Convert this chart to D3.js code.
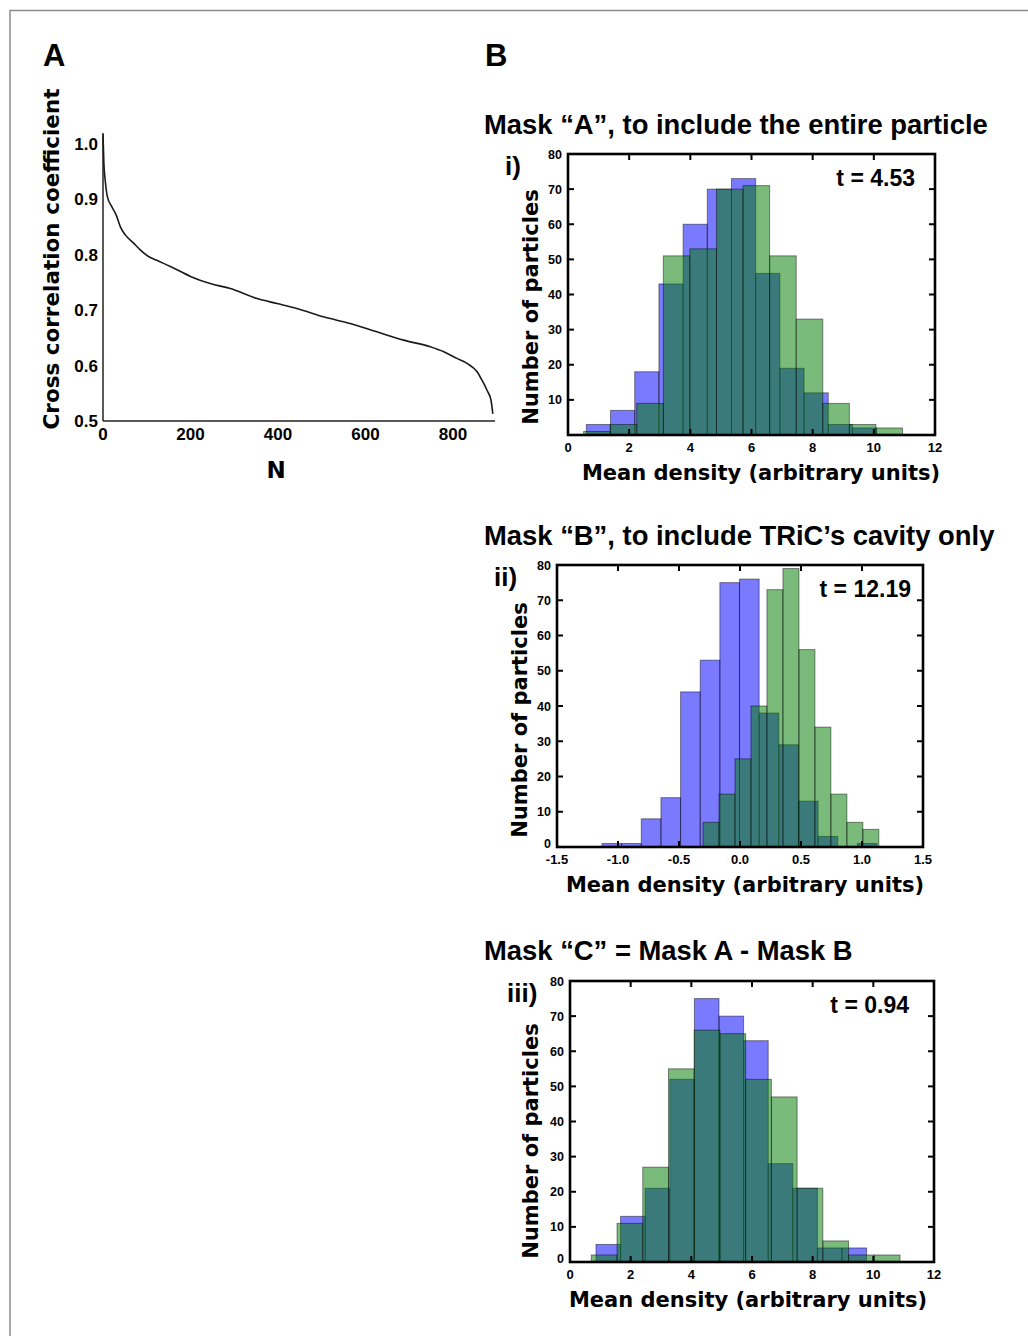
<!DOCTYPE html>
<html>
<head>
<meta charset="utf-8">
<script src="https://cdn.jsdelivr.net/npm/d3@7"></script>
<style>
  body { margin: 0; background: #fff; }
  svg { display: block; }
  text { font-family: "Liberation Sans", Arial, sans-serif; font-weight: bold; fill: #000; }
  .heavy { font-family: "DejaVu Sans", Verdana, sans-serif; font-weight: bold; }
</style>
</head>
<body>
<svg id="fig" width="1028" height="1336"></svg>
<script>
// ---- Panel A: sorted cross-correlation coefficients ----
const ccN     = [0, 2, 5, 10, 20, 30, 40, 51, 70, 85, 104, 123, 154, 200, 245, 291, 352, 398, 443, 504, 565, 626, 687, 748, 779, 809, 832, 855, 866, 878, 887, 891];
const ccValue = [1.017, 0.965, 0.935, 0.905, 0.887, 0.872, 0.850, 0.836, 0.821, 0.809, 0.797, 0.790, 0.779, 0.761, 0.748, 0.739, 0.721, 0.712, 0.703, 0.688, 0.676, 0.661, 0.646, 0.634, 0.625, 0.613, 0.604, 0.589, 0.574, 0.555, 0.537, 0.513];
const ccXTicks = [0, 200, 400, 600, 800];
const ccYTicks = [0.5, 0.6, 0.7, 0.8, 0.9, 1.0];

// ---- Panel B(i): Mask "A" ----
const iBlueStart = 0.60, iBlueWidth = 0.791;
const iBlueCounts = [3, 7, 18, 43, 60, 70, 73, 46, 19, 12, 3, 2];
const iGreenStart = 0.51, iGreenWidth = 0.869;
const iGreenCounts = [1, 3, 9, 51, 53, 70, 71, 51, 33, 9, 3, 2];
const iXTicks = [0, 2, 4, 6, 8, 10, 12];
const iYTicks = [10, 20, 30, 40, 50, 60, 70, 80];

// ---- Panel B(ii): Mask "B" ----
const iiBlueStart = -1.131, iiBlueWidth = 0.161;
const iiBlueCounts = [1, 1, 8, 14, 44, 53, 75, 76, 38, 29, 13, 3, 0, 1];
const iiGreenStart = -0.303, iiGreenWidth = 0.131;
const iiGreenCounts = [7, 15, 25, 40, 73, 79, 56, 34, 15, 7, 5];
const iiXTicks = [-1.5, -1.0, -0.5, 0.0, 0.5, 1.0, 1.5];
const iiYTicks = [0, 10, 20, 30, 40, 50, 60, 70, 80];

// ---- Panel B(iii): Mask "C" ----
const iiiBlueStart = 0.857, iiiBlueWidth = 0.811;
const iiiBlueCounts = [5, 13, 21, 52, 75, 70, 63, 28, 21, 4, 4];
const iiiGreenStart = 0.703, iiiGreenWidth = 0.848;
const iiiGreenCounts = [2, 11, 27, 55, 66, 65, 52, 47, 21, 6, 2, 2];
const iiiXTicks = [0, 2, 4, 6, 8, 10, 12];
const iiiYTicks = [0, 10, 20, 30, 40, 50, 60, 70, 80];

const svg = d3.select("#fig");

// outer frame (top and left edges)
svg.append("path")
  .attr("d", "M10,1336 V10.5 H1028")
  .attr("fill", "none").attr("stroke", "#8a8a8a").attr("stroke-width", 1.5);

// panel letters
svg.append("text").attr("x", 43).attr("y", 66)
  .style("font-family", "'Liberation Sans Narrow', 'Liberation Sans', Arial")
  .style("font-size", "31px").text("A");
svg.append("text").attr("x", 485).attr("y", 66)
  .style("font-family", "'Liberation Sans Narrow', 'Liberation Sans', Arial")
  .style("font-size", "31px").text("B");

// ---- Panel A drawing ----
(function () {
  const x = d3.scaleLinear().domain([0, 896]).range([103, 495]);
  const y = d3.scaleLinear().domain([0.5, 1.0]).range([421, 144]);
  const g = svg.append("g");
  g.append("line").attr("x1", 103).attr("x2", 103).attr("y1", y(1.02)).attr("y2", 421)
    .attr("stroke", "#222").attr("stroke-width", 1.5);
  g.append("line").attr("x1", 103).attr("x2", x(896)).attr("y1", 421).attr("y2", 421)
    .attr("stroke", "#222").attr("stroke-width", 1.5);
  g.selectAll(".yl").data(ccYTicks).join("text")
    .attr("x", 98).attr("y", d => y(d) + 6).attr("text-anchor", "end")
    .style("font-size", "17px").text(d => d.toFixed(1));
  g.selectAll(".xl").data(ccXTicks).join("text")
    .attr("x", d => x(d)).attr("y", 440).attr("text-anchor", "middle")
    .style("font-size", "17px").text(d => d);
  const pts = ccN.map((n, i) => [n, ccValue[i]]);
  g.append("path").datum(pts)
    .attr("d", d3.line().x(d => x(d[0])).y(d => y(d[1])).curve(d3.curveMonotoneX))
    .attr("fill", "none").attr("stroke", "#1a1a1a").attr("stroke-width", 1.6);
  g.append("text").attr("class", "heavy")
    .attr("transform", "translate(59,259) rotate(-90)").attr("text-anchor", "middle")
    .style("font-size", "21.5px").text("Cross correlation coefficient");
  g.append("text").attr("class", "heavy")
    .attr("x", 276).attr("y", 478).attr("text-anchor", "middle")
    .style("font-size", "23px").text("N");
})();

// ---- Histogram panel helper ----
function histPanel(opt) {
  const x = d3.scaleLinear().domain(opt.xDomain).range([opt.left, opt.right]);
  const y = d3.scaleLinear().domain([0, 80]).range([opt.bottom, opt.top]);
  const g = svg.append("g");

  function bars(start, width, counts, color) {
    const data = counts.map((c, i) => ({ x0: start + i * width, x1: start + (i + 1) * width, c }))
      .filter(d => d.c > 0);
    g.append("g").selectAll("rect").data(data).join("rect")
      .attr("x", d => x(d.x0)).attr("width", d => x(d.x1) - x(d.x0))
      .attr("y", d => y(d.c)).attr("height", d => y(0) - y(d.c))
      .attr("fill", color).attr("fill-opacity", 0.52)
      .attr("stroke", "#000").attr("stroke-opacity", 0.45).attr("stroke-width", 1);
  }
  bars(opt.blueStart, opt.blueWidth, opt.blueCounts, "#0000ff");
  bars(opt.greenStart, opt.greenWidth, opt.greenCounts, "#007a00");

  // inward ticks on all four sides
  const tl = 6;
  const tk = g.append("g").attr("stroke", "#000").attr("stroke-width", 2);
  opt.xTicks.forEach(v => {
    tk.append("line").attr("x1", x(v)).attr("x2", x(v)).attr("y1", opt.bottom).attr("y2", opt.bottom - tl);
    tk.append("line").attr("x1", x(v)).attr("x2", x(v)).attr("y1", opt.top).attr("y2", opt.top + tl);
  });
  [10, 20, 30, 40, 50, 60, 70].forEach(v => {
    tk.append("line").attr("x1", opt.left).attr("x2", opt.left + tl).attr("y1", y(v)).attr("y2", y(v));
    tk.append("line").attr("x1", opt.right).attr("x2", opt.right - tl).attr("y1", y(v)).attr("y2", y(v));
  });
  g.append("rect").attr("x", opt.left).attr("y", opt.top)
    .attr("width", opt.right - opt.left).attr("height", opt.bottom - opt.top)
    .attr("fill", "none").attr("stroke", "#000").attr("stroke-width", 2.6);

  g.selectAll(".yl").data(opt.yTicks).join("text")
    .attr("x", opt.left - 6).attr("y", d => y(d) + (d === 0 ? 1 : 4.5)).attr("text-anchor", "end")
    .style("font-size", "12.5px").text(d => d);
  g.selectAll(".xl").data(opt.xTicks).join("text")
    .attr("x", d => x(d)).attr("y", opt.bottom + 17).attr("text-anchor", "middle")
    .style("font-size", "13px").text(d => opt.xFmt(d));

  g.append("text").attr("class", "heavy")
    .attr("transform", `translate(${opt.yLabelX},${opt.yLabelY}) rotate(-90)`)
    .attr("text-anchor", "middle").style("font-size", "21px").text("Number of particles");
  g.append("text").attr("class", "heavy")
    .attr("x", opt.xLabelX).attr("y", opt.bottom + 45).attr("text-anchor", "middle")
    .style("font-size", "21px").text("Mean density (arbitrary units)");

  g.append("text").attr("x", opt.tX).attr("y", opt.top + 32).attr("text-anchor", "end")
    .style("font-size", "23px").text(opt.tLabel);
  g.append("text").attr("x", opt.romanX).attr("y", opt.top + 21)
    .style("font-size", "26px").text(opt.roman);
  g.append("text").attr("x", 484).attr("y", opt.titleY)
    .style("font-size", "27.4px").text(opt.title);
}

histPanel({
  left: 568, right: 935, top: 154, bottom: 435, xDomain: [0, 12],
  blueStart: iBlueStart, blueWidth: iBlueWidth, blueCounts: iBlueCounts,
  greenStart: iGreenStart, greenWidth: iGreenWidth, greenCounts: iGreenCounts,
  xTicks: iXTicks, yTicks: iYTicks, xFmt: d => d,
  yLabelX: 538, yLabelY: 307, xLabelX: 761, tX: 915, tLabel: "t = 4.53", roman: "i)", romanX: 505,
  title: "Mask \u201CA\u201D, to include the entire particle", titleY: 134
});
histPanel({
  left: 557, right: 923, top: 565, bottom: 847, xDomain: [-1.5, 1.5],
  blueStart: iiBlueStart, blueWidth: iiBlueWidth, blueCounts: iiBlueCounts,
  greenStart: iiGreenStart, greenWidth: iiGreenWidth, greenCounts: iiGreenCounts,
  xTicks: iiXTicks, yTicks: iiYTicks, xFmt: d => d.toFixed(1),
  yLabelX: 527, yLabelY: 720, xLabelX: 745, tX: 911, tLabel: "t = 12.19", roman: "ii)", romanX: 494,
  title: "Mask \u201CB\u201D, to include TRiC\u2019s cavity only", titleY: 545
});
histPanel({
  left: 570, right: 934, top: 981, bottom: 1262, xDomain: [0, 12],
  blueStart: iiiBlueStart, blueWidth: iiiBlueWidth, blueCounts: iiiBlueCounts,
  greenStart: iiiGreenStart, greenWidth: iiiGreenWidth, greenCounts: iiiGreenCounts,
  xTicks: iiiXTicks, yTicks: iiiYTicks, xFmt: d => d,
  yLabelX: 538, yLabelY: 1141, xLabelX: 748, tX: 909, tLabel: "t = 0.94", roman: "iii)", romanX: 507,
  title: "Mask \u201CC\u201D = Mask A - Mask B", titleY: 960
});
</script>
</body>
</html>
